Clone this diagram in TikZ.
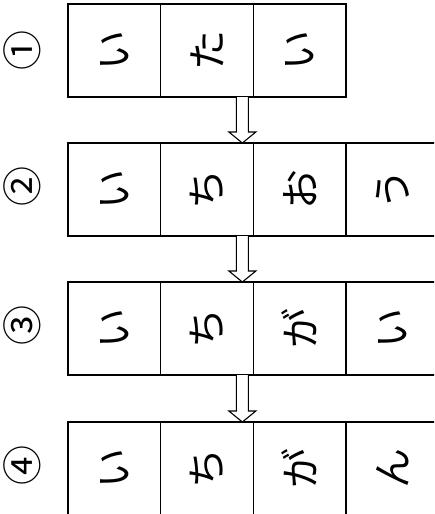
\documentclass[tikz,border=0pt]{standalone}
\usepackage{graphicx}
\usepackage{fontspec}
\newfontfamily\jp{Noto Sans CJK JP}
\usetikzlibrary{calc}
\begin{document}
\begin{tikzpicture}[x=1pt,y=-1pt,
  cell/.style={draw, line width=1.2pt, minimum width=92.7pt, minimum height=93pt,
    inner sep=0pt, outer sep=0pt, font=\jp\fontsize{40}{40}\selectfont},
  num/.style={inner sep=0pt, font=\jp\fontsize{40}{40}\selectfont},
  hollow/.style={draw, line width=1.1pt, fill=white, line join=miter}]
\clip (0,0) rectangle (434,514);
\fill[white] (0,0) rectangle (434,514);
\newcommand{\rt}[1]{\rotatebox{90}{#1}}
% row 1
\node[cell] (a1) at (114.3,50.5) {\rt{い}};
\node[cell] (a2) at (207.0,50.5) {\rt{た}};
\node[cell] (a3) at (299.7,50.5) {\rt{い}};
\node[num] (n1) at (22,50) {\rt{①}};
% row 2
\node[cell] (b1) at (114.3,189.5) {\rt{い}};
\node[cell] (b2) at (207.0,189.5) {\rt{ち}};
\node[cell] (b3) at (299.7,189.5) {\rt{お}};
\node[cell] (b4) at (392.4,189.5) {\rt{う}};
\node[num] (n2) at (22,186) {\rt{②}};
% row 3
\node[cell] (c1) at (114.3,328.5) {\rt{い}};
\node[cell] (c2) at (207.0,328.5) {\rt{ち}};
\node[cell] (c3) at (299.7,328.5) {\rt{が}};
\node[cell] (c4) at (392.4,328.5) {\rt{い}};
\node[num] (n3) at (22,325) {\rt{③}};
% row 4
\node[cell] (d1) at (114.3,468.5) {\rt{い}};
\node[cell] (d2) at (207.0,468.5) {\rt{ち}};
\node[cell] (d3) at (299.7,468.5) {\rt{が}};
\node[cell] (d4) at (392.4,468.5) {\rt{ん}};
\node[num] (n4) at (22,465) {\rt{④}};
% hollow arrows
\foreach \s/\t in {a2/b2, b2/c2, c2/d2}{
  \coordinate (p) at ($(\s.south east)+(-11,0)$);
  \coordinate (q) at ($(\t.north east)+(-11,0)$);
  \draw[hollow] ($(p)+(-6,0)$) -- ($(q)+(-6,-11)$) -- ($(q)+(-13.5,-11)$) -- (q)
    -- ($(q)+(13.5,-11)$) -- ($(q)+(6,-11)$) -- ($(p)+(6,0)$);
}
\end{tikzpicture}
\end{document}
